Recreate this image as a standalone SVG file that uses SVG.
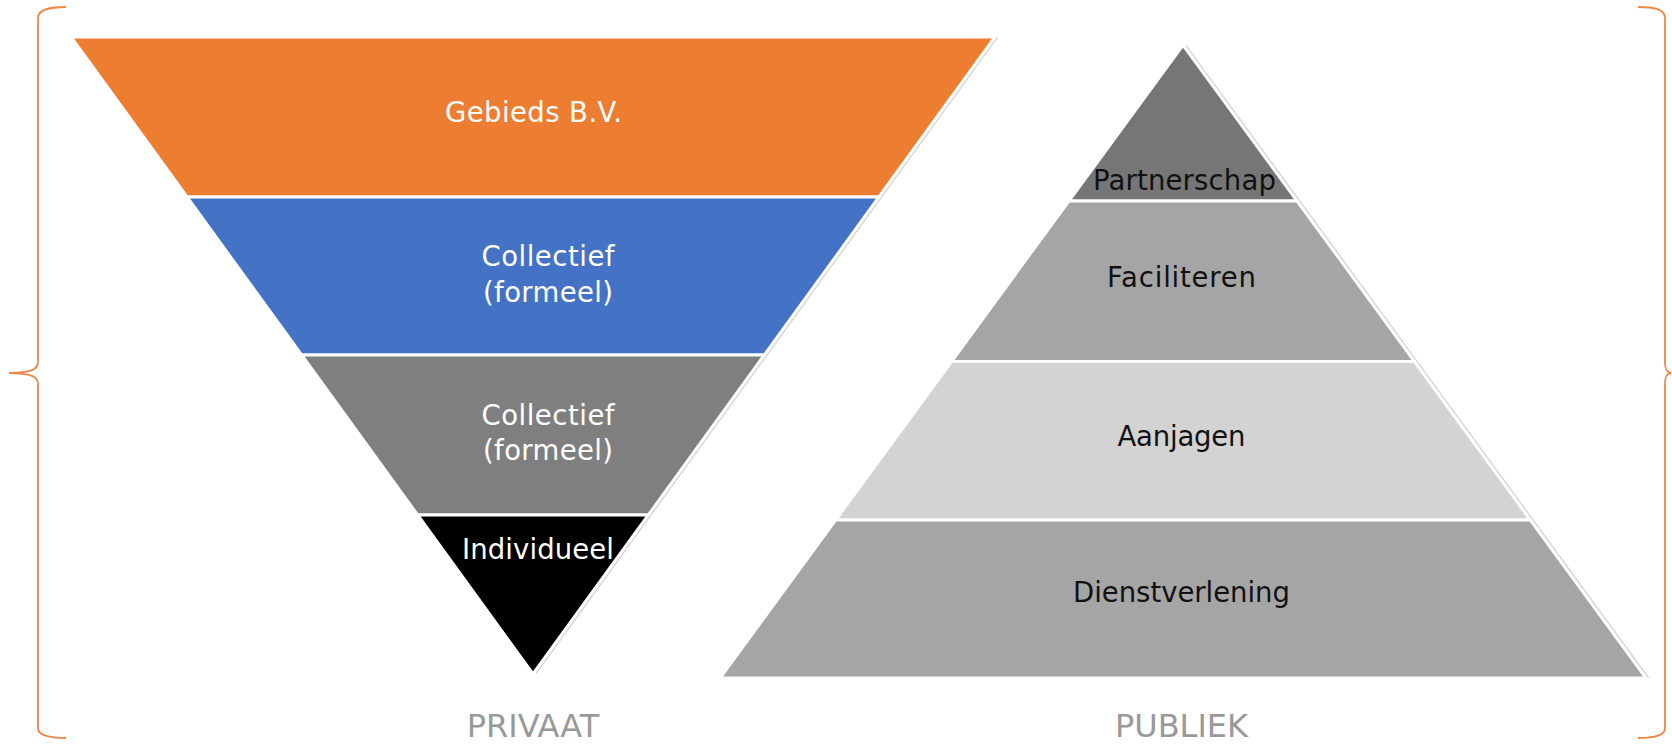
<svg xmlns="http://www.w3.org/2000/svg" width="1672" height="744" viewBox="0 0 1672 744">
  <style>
    .band { stroke: #FFFFFF; stroke-width: 3; stroke-linejoin: miter; }
    .shadow { fill: #D4D4D4; stroke: none; }
    .lbl { font-family: "DejaVu Sans", "Verdana", sans-serif; font-size: 27.5px; text-anchor: middle; }
    .w { fill: #FFFFFF; }
    .k { fill: #111111; }
    .cap { font-family: "DejaVu Sans", "Verdana", sans-serif; font-size: 32px; text-anchor: middle; fill: #999999; }
    .brace { fill: none; stroke: #EE8646; stroke-width: 1.8; }
  </style>
  <rect x="0" y="0" width="1672" height="744" fill="#FFFFFF"/>

  <!-- braces -->
  <g id="braces">
    <path class="brace" d="M66,7 C50,7 38,9 38,18 L38,362 C38,370 30,372.5 9,373 C30,373.5 38,376 38,384 L38,728 C38,736 50,738 66,738"/>
    <path class="brace" d="M1638,7 C1654,7 1665,9 1665,18 L1665,362 C1665,370 1667,372.5 1671,373 C1667,373.5 1665,376 1665,384 L1665,728 C1665,736 1654,738 1638,738"/>
  </g>

  <!-- shadows -->
  <g id="shadows">
    <polygon class="shadow" points="74.5,37 998.5,37 536.5,674"/>
    <polygon class="shadow" points="1186.5,45 1649.5,678 723.5,678"/>
  </g>

  <!-- inverted triangle (PRIVAAT) -->
  <g id="gebieds-bv">
    <polygon class="band" fill="#ED7D31" points="71,37 995,37 878.95,197 187.05,197"/>
    <text class="lbl w" x="533.5" y="122.3" textLength="177" lengthAdjust="spacing">Gebieds B.V.</text>
  </g>
  <g id="collectief-blauw">
    <polygon class="band" fill="#4472C4" points="187.05,197 878.95,197 764.36,355 301.64,355"/>
    <text class="lbl w" x="548" y="266" textLength="133" lengthAdjust="spacing">Collectief</text>
    <text class="lbl w" x="548" y="301.7" textLength="130" lengthAdjust="spacing">(formeel)</text>
  </g>
  <g id="collectief-grijs">
    <polygon class="band" fill="#7F7F7F" points="301.64,355 764.36,355 648.32,515 417.68,515"/>
    <text class="lbl w" x="548" y="424.5" textLength="133" lengthAdjust="spacing">Collectief</text>
    <text class="lbl w" x="548" y="460.2" textLength="130" lengthAdjust="spacing">(formeel)</text>
  </g>
  <g id="individueel">
    <polygon class="band" fill="#000000" points="417.68,515 648.32,515 533,674"/>
    <text class="lbl w" x="538" y="559.3" textLength="152" lengthAdjust="spacing">Individueel</text>
  </g>

  <!-- pyramid (PUBLIEK) -->
  <g id="partnerschap">
    <polygon class="band" fill="#767676" points="1183,45 1297.1,201 1068.9,201"/>
    <text class="lbl k" x="1184.4" y="190" textLength="183" lengthAdjust="spacing">Partnerschap</text>
  </g>
  <g id="faciliteren">
    <polygon class="band" fill="#A5A5A5" points="1068.9,201 1297.1,201 1414.5,361.5 951.5,361.5"/>
    <text class="lbl k" x="1181.5" y="286.7" textLength="149" lengthAdjust="spacing">Faciliteren</text>
  </g>
  <g id="aanjagen">
    <polygon class="band" fill="#D3D3D3" points="951.5,361.5 1414.5,361.5 1530.4,520 835.6,520"/>
    <text class="lbl k" x="1181.5" y="445.5" textLength="128" lengthAdjust="spacing">Aanjagen</text>
  </g>
  <g id="dienstverlening">
    <polygon class="band" fill="#A5A5A5" points="835.6,520 1530.4,520 1646,678 720,678"/>
    <text class="lbl k" x="1181.5" y="601.7" textLength="217" lengthAdjust="spacing">Dienstverlening</text>
  </g>

  <!-- captions -->
  <g id="privaat">
    <text class="cap" x="533" y="737">PRIVAAT</text>
  </g>
  <g id="publiek">
    <text class="cap" x="1181.5" y="737">PUBLIEK</text>
  </g>
</svg>
